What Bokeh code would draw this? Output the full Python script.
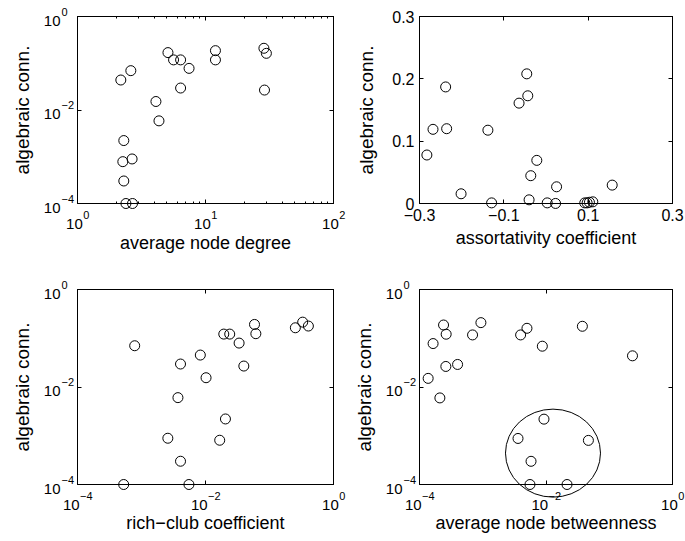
import math

from bokeh.plotting import figure
from bokeh.layouts import row, column
from bokeh.models import FixedTicker, LogAxis, LinearAxis, CustomJSTickFormatter
from bokeh.core.properties import value
from bokeh.embed import file_html
from bokeh.resources import INLINE

FONT = "Liberation Sans"

# average node degree vs algebraic connectivity
deg_x = [2.18, 2.61, 5.09, 5.63, 6.39, 7.44, 6.39, 11.96, 11.96, 28.6,
         29.9, 28.9, 4.10, 4.33, 2.30, 2.26, 2.67, 2.30, 2.39, 2.69]
deg_y = [0.0438, 0.0694, 0.169, 0.118, 0.118, 0.0777, 0.0295, 0.186, 0.118, 0.209,
         0.163, 0.0267, 0.0152, 0.00586, 0.00222, 0.000785, 0.000897, 0.000303, 0.0001, 0.0001]

# assortativity coefficient vs algebraic connectivity
assort_x = [-0.2825, -0.268, -0.238, -0.2356, -0.2014, -0.1378, -0.129, -0.0639, -0.0456, -0.0432,
            -0.0218, -0.0361, -0.0401, 0.0029, 0.0251, 0.0227, 0.0919, 0.0975, 0.103, 0.111, 0.157]
assort_y = [0.0778, 0.119, 0.187, 0.120, 0.0156, 0.1176, 0.001, 0.161, 0.208, 0.1728,
            0.0692, 0.0446, 0.0059, 0.001, 0.0268, 0.0001, 0.001, 0.001, 0.002, 0.0027, 0.0295]

# rich-club coefficient vs algebraic connectivity
rich_x = [7.83e-4, 4.07e-3, 8.30e-3, 0.0102, 3.71e-3, 0.0193, 0.0239, 0.0335, 0.0397, 0.0583,
          0.0612, 0.2535, 0.330, 0.405, 0.0205, 2.58e-3, 0.01667, 4.07e-3, 5.27e-4, 5.51e-3]
rich_y = [0.0702, 0.0296, 0.0452, 0.0155, 0.00605, 0.1217, 0.1217, 0.0796, 0.0269, 0.192,
          0.124, 0.164, 0.214, 0.178, 0.00221, 0.000889, 0.000809, 0.0003, 0.0001, 0.0001]

# average node betweenness vs algebraic connectivity
betw_x = [1.37e-4, 1.64e-4, 2.10e-4, 2.40e-4, 2.64e-4, 2.61e-4, 4.00e-4, 6.90e-4, 9.35e-4, 3.97e-3,
          5.00e-3, 8.75e-3, 0.0376, 0.233, 9.29e-3, 3.61e-3, 0.0468, 5.80e-3, 5.58e-3, 0.0215]
betw_y = [0.01503, 0.0778, 0.00597, 0.187, 0.121, 0.0264, 0.029, 0.117, 0.209, 0.117,
          0.160, 0.0687, 0.176, 0.0436, 0.00219, 0.00088, 0.000803, 0.000299, 0.0001, 0.0001]

# circled cluster of weakly connected networks (centre in data units)
cluster_x = [0.0129]
cluster_y = [4.4e-4]

# tick values
deg_ticks = [1, 10, 100]
deg_minor = [2, 3, 4, 5, 6, 7, 8, 9, 20, 30, 40, 50, 60, 70, 80, 90]
log4_ticks = [1e-4, 1e-2, 1]
assort_ticks = [-0.3, -0.1, 0.1, 0.3]
assort_labels = ["\u22120.3", "\u22120.1", "0.1", "0.3"]
conn_lin_ticks = [0, 0.1, 0.2, 0.3]
conn_lin_labels = ["0", "0.1", "0.2", "0.3"]

BASE_PX = 15      # "10" of a power-of-ten label
EXP_PX = 11       # its exponent
LIN_PX = 16       # plain numeric tick labels
XLAB_PX = 18
YLAB_PX = 19


def exponent(v):
    return str(int(round(math.log10(v)))).replace("-", "\u2212")


def text_width(s, size):
    # advance widths of Liberation Sans digits / minus sign
    return sum(0.584 if c == "\u2212" else 0.556 for c in s) * size


def ticks_only(ax, ticks, minor):
    ax.ticker = FixedTicker(ticks=ticks, minor_ticks=minor)
    ax.axis_line_color = "black"
    ax.axis_line_width = 1
    ax.major_tick_line_color = "black"
    ax.minor_tick_line_color = "black"
    ax.major_tick_in = 4
    ax.major_tick_out = 0
    ax.minor_tick_in = 2
    ax.minor_tick_out = 0


def blank_labels(ax):
    ax.formatter = CustomJSTickFormatter(code="return ''")
    ax.major_label_standoff = 0


def axis_title(ax, text, size, standoff):
    ax.axis_label = text
    ax.axis_label_text_font = FONT
    ax.axis_label_text_font_size = f"{size}px"
    ax.axis_label_text_font_style = "normal"
    ax.axis_label_text_color = "black"
    ax.axis_label_standoff = standoff


def numeric_labels(ax, ticks, labels, standoff):
    ax.major_label_overrides = {t: l for t, l in zip(ticks, labels)}
    ax.major_label_text_font = FONT
    ax.major_label_text_font_size = f"{LIN_PX}px"
    ax.major_label_text_color = "black"
    ax.major_label_standoff = standoff


def text_style(size, align):
    return dict(text_font=value(FONT), text_font_size=f"{size}px", text_color="black",
                text_align=align, text_baseline="alphabetic", level="overlay")


def power_labels_x(p, ticks, y_edge):
    n = len(ticks)
    exps = [exponent(t) for t in ticks]
    wb = text_width("10", BASE_PX)
    base_dx = [-(wb + text_width(e, EXP_PX)) / 2 for e in exps]
    exp_dx = [d + wb + 0.5 for d in base_dx]
    p.text(x=ticks, y=[y_edge] * n, text=["10"] * n, x_offset=base_dx, y_offset=20,
           **text_style(BASE_PX, "left"))
    p.text(x=ticks, y=[y_edge] * n, text=exps, x_offset=exp_dx, y_offset=11.5,
           **text_style(EXP_PX, "left"))


def power_labels_y(p, ticks, x_edge):
    n = len(ticks)
    exps = [exponent(t) for t in ticks]
    p.text(x=[x_edge] * n, y=ticks, text=["10"] * n, x_offset=-17, y_offset=4,
           **text_style(BASE_PX, "right"))
    p.text(x=[x_edge] * n, y=ticks, text=exps, x_offset=-16, y_offset=-5,
           **text_style(EXP_PX, "left"))


def panel(xs, ys, x_type, y_type, x_range, y_range, xt, xminor, yt,
          xlabel, ylabel, width, height, borders,
          x_lin_labels=None, y_lin_labels=None, x_title_off=29, y_title_off=45):
    left, right, top, bottom = borders
    p = figure(width=width, height=height, x_axis_type=x_type, y_axis_type=y_type,
               x_range=x_range, y_range=y_range, output_backend="svg",
               toolbar_location=None, min_border_left=left, min_border_right=right,
               min_border_top=top, min_border_bottom=bottom)
    p.grid.visible = False
    p.outline_line_color = "black"
    p.outline_line_alpha = 1
    p.outline_line_width = 1
    p.background_fill_color = "white"
    p.border_fill_color = "white"

    xa = p.xaxis[0]
    ya = p.yaxis[0]
    ticks_only(xa, xt, xminor)
    ticks_only(ya, yt, [])

    if x_lin_labels is None:
        blank_labels(xa)
        power_labels_x(p, xt, y_range[0])
    else:
        numeric_labels(xa, xt, x_lin_labels, 5)
    if y_lin_labels is None:
        blank_labels(ya)
        power_labels_y(p, yt, x_range[0])
    else:
        numeric_labels(ya, yt, y_lin_labels, 5)

    axis_title(xa, xlabel, XLAB_PX, x_title_off)
    axis_title(ya, ylabel, YLAB_PX, y_title_off)

    # mirrored ticks on the top and right sides of the box
    XAx = LogAxis if x_type == "log" else LinearAxis
    YAx = LogAxis if y_type == "log" else LinearAxis
    top_ax = XAx()
    right_ax = YAx()
    ticks_only(top_ax, xt, xminor)
    ticks_only(right_ax, yt, [])
    blank_labels(top_ax)
    blank_labels(right_ax)
    p.add_layout(top_ax, "above")
    p.add_layout(right_ax, "right")

    p.scatter(xs, ys, marker="circle", size=10, fill_color=None,
              line_color="black", line_width=1, level="overlay")
    return p


W1, W2 = 348, 337
H1, H2 = 262, 279

p1 = panel(deg_x, deg_y, "log", "log", (1, 100), (1e-4, 1),
           deg_ticks, deg_minor, log4_ticks,
           "average node degree", "algebraic conn.",
           W1, H1, (77, 15, 16, 59))

p2 = panel(assort_x, assort_y, "linear", "linear", (-0.3, 0.3), (0, 0.3),
           assort_ticks, [], conn_lin_ticks,
           "assortativity coefficient", "algebraic conn.",
           W2, H1, (71, 13, 16, 59),
           x_lin_labels=assort_labels, y_lin_labels=conn_lin_labels,
           x_title_off=4, y_title_off=12)

p3 = panel(rich_x, rich_y, "log", "log", (1e-4, 1), (1e-4, 1),
           log4_ticks, [], log4_ticks,
           "rich\u2212club coefficient", "algebraic conn.",
           W1, H2, (77, 15, 27, 57), x_title_off=28)

p4 = panel(betw_x, betw_y, "log", "log", (1e-4, 1), (1e-4, 1),
           log4_ticks, [], log4_ticks,
           "average node betweenness", "algebraic conn.",
           W2, H2, (71, 13, 27, 57), x_title_off=28)

p4.ellipse(cluster_x, cluster_y, width=95, height=88, width_units="screen",
           height_units="screen", fill_color=None, line_color="black",
           line_width=1, level="overlay")

layout = column(row(p1, p2, spacing=0), row(p3, p4, spacing=0), spacing=0)

open("out.html", "w").write(file_html(layout, INLINE))
